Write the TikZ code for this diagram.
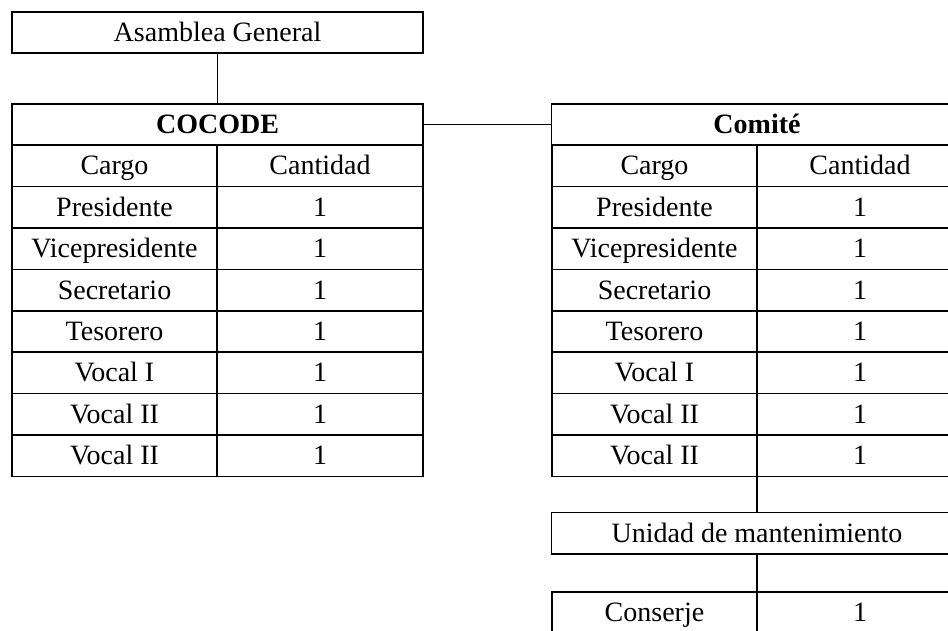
\documentclass[tikz,border=0pt]{standalone}
\usepackage{fontspec}
\setmainfont{Liberation Serif}
\begin{document}
\begin{tikzpicture}[x=1pt,y=-1pt,line width=1.6pt,
  cell/.style={draw,inner sep=0pt,minimum height=41.4pt,text height=22pt,text depth=4pt,
    font=\fontsize{28}{34}\selectfont},
  half/.style={cell,minimum width=205pt},
  wide/.style={cell,minimum width=411pt}]
\useasboundingbox (0,0) rectangle (948,630);
\clip (0,0) rectangle (948,630);

\node[wide] (asamblea) at (217.5,32.5) {Asamblea General}; %top box

% COCODE table
\node[wide] (cocode) at (217.5,124.5) {\textbf{COCODE}};
\foreach \i/\cargo/\cant in {1/Cargo/Cantidad,2/Presidente/1,3/Vicepresidente/1,4/Secretario/1,
  5/Tesorero/1,6/Vocal I/1,7/Vocal II/1,8/Vocal II/1}{
  \node[half] (cl\i) at (114.5,124.5+41.4*\i) {\cargo};
  \node[half,minimum width=206pt] (cr\i) at (320,124.5+41.4*\i) {\cant};
}

% Comite table
\node[wide] (comite) at (757,124.5) {\textbf{Comité}};
\foreach \i/\cargo/\cant in {1/Cargo/Cantidad,2/Presidente/1,3/Vicepresidente/1,4/Secretario/1,
  5/Tesorero/1,6/Vocal I/1,7/Vocal II/1,8/Vocal II/1}{
  \node[half] (ml\i) at (654.5,124.5+41.4*\i) {\cargo};
  \node[half,minimum width=206pt] (mr\i) at (860,124.5+41.4*\i) {\cant};
}

\node[wide] (unidad) at (757,533) {Unidad de mantenimiento};
\node[half] (conserje) at (654.5,612.5) {Conserje};
\node[half,minimum width=206pt] (conserjen) at (860,612.5) {1};

% connectors
\draw (asamblea.south) -- (cocode.north);
\draw (cocode.east) -- (comite.west);
\draw (unidad.north |- ml8.south) -- (unidad.north);
\draw (unidad.south) -- (unidad.south |- conserje.north);
\end{tikzpicture}
\end{document}
